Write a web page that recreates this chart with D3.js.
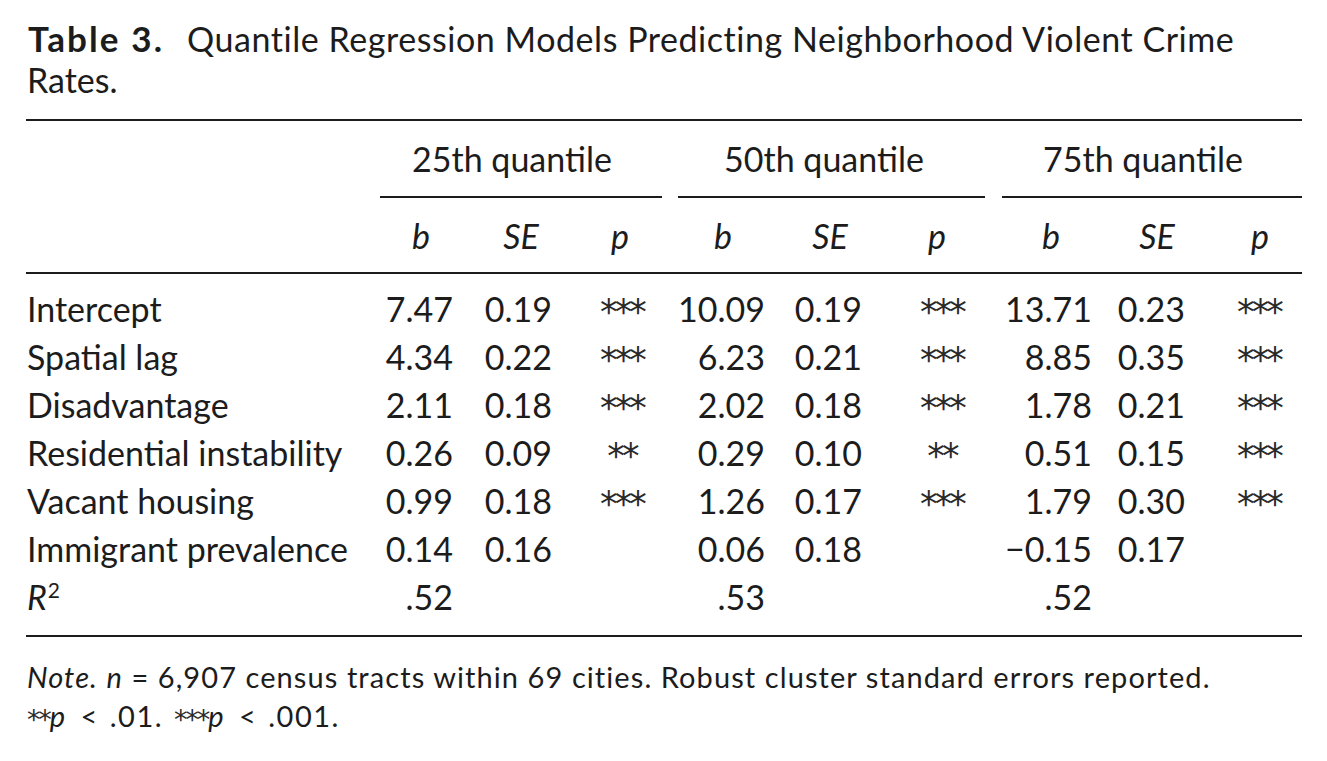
<!DOCTYPE html>
<html>
<head>
<meta charset="utf-8">
<script src="https://cdn.jsdelivr.net/npm/d3@7"></script>
<style>
  body { margin: 0; background: #fff; }
  text { font-family: Lato, "Noto Sans", sans-serif; fill: #1c1c1c; }
</style>
</head>
<body>
<svg id="table"></svg>
<script>
// table data
var rowLabels = ["Intercept", "Spatial lag", "Disadvantage", "Residential instability",
                 "Vacant housing", "Immigrant prevalence", "R2"];
var quantiles = ["25th quantile", "50th quantile", "75th quantile"];
var statLabels = ["b", "SE", "p"];

var b25 = [7.47, 4.34, 2.11, 0.26, 0.99, 0.14];
var se25 = [0.19, 0.22, 0.18, 0.09, 0.18, 0.16];
var p25 = ["***", "***", "***", "**", "***", ""];

var b50 = [10.09, 6.23, 2.02, 0.29, 1.26, 0.06];
var se50 = [0.19, 0.21, 0.18, 0.10, 0.17, 0.18];
var p50 = ["***", "***", "***", "**", "***", ""];

var b75 = [13.71, 8.85, 1.78, 0.51, 1.79, -0.15];
var se75 = [0.23, 0.35, 0.21, 0.15, 0.30, 0.17];
var p75 = ["***", "***", "***", "***", "***", ""];

var rSquared = [0.52, 0.53, 0.52];

var W = 1327, H = 761;
var left = 26, right = 1302;
var ink = "#1c1c1c";

var svg = d3.select("#table").attr("width", W).attr("height", H);
svg.append("rect").attr("width", W).attr("height", H).attr("fill", "#fff");

var fmt = d3.format(".2f");
var fmtR2 = v => fmt(v).replace(/^0/, "");

// rows: one band per row, text baseline at the middle of the band
var y = d3.scaleBand().domain(rowLabels).range([298, 634]).paddingInner(0);
var baseline = d => y(d) + y.bandwidth() / 2;

// column anchors per quantile group
var groupX = d3.scaleOrdinal().domain(quantiles).range([
  { title: 512, line: [380, 662], bHead: 421, seHead: 521, pHead: 620, b: 453, se: 552, p: 620 },
  { title: 824, line: [678, 985], bHead: 723, seHead: 830, pHead: 937, b: 765, se: 862, p: 940 },
  { title: 1143, line: [1002, 1302], bHead: 1051, seHead: 1157, pHead: 1260, b: 1092, se: 1185, p: 1257 }
]);

var groups = [
  { name: quantiles[0], b: b25, se: se25, p: p25, r2: rSquared[0] },
  { name: quantiles[1], b: b50, se: se50, p: p50, r2: rSquared[1] },
  { name: quantiles[2], b: b75, se: se75, p: p75, r2: rSquared[2] }
];

// spread a line to a target width with letter spacing (the reference face runs wider)
function fitWidth(sel, target) {
  var node = sel.node();
  var natural = node.getComputedTextLength();
  var n = node.textContent.length - 1;
  if (n > 0) sel.attr("letter-spacing", (target - natural) / n);
}

// significance stars, DejaVu's asterisk is big enough to read at cap height
function stars(sel, size) {
  sel.style("font-family", "'DejaVu Sans', sans-serif")
    .attr("font-size", size).attr("letter-spacing", -size * 0.08)
    .style("fill", "#2a2a2a");
}

// title
svg.append("text").attr("x", 28).attr("y", 52).attr("font-size", 35)
  .attr("font-weight", 700).text("Table 3.").call(fitWidth, 162 - 28);
svg.append("text").attr("x", 187).attr("y", 52).attr("font-size", 34)
  .text("Quantile Regression Models Predicting Neighborhood Violent Crime")
  .call(fitWidth, 1235 - 187);
svg.append("text").attr("x", 27).attr("y", 93).attr("font-size", 34).text("Rates.");

// rules
function rule(x1, x2, yy, w) {
  svg.append("line").attr("x1", x1).attr("x2", x2).attr("y1", yy).attr("y2", yy)
    .attr("stroke", ink).attr("stroke-width", w || 2);
}
rule(left, right, 120, 2.2);
rule(left, right, 273, 2.2);
rule(left, right, 636, 2.2);

// group headers
groups.forEach(g => {
  var c = groupX(g.name);
  svg.append("text").attr("x", c.title).attr("y", 172).attr("text-anchor", "middle")
    .attr("font-size", 34).text(g.name);
  rule(c.line[0], c.line[1], 197, 2);
  [[statLabels[0], c.bHead], [statLabels[1], c.seHead], [statLabels[2], c.pHead]].forEach(s => {
    svg.append("text").attr("x", s[1]).attr("y", 249).attr("text-anchor", "middle")
      .attr("font-size", 34).attr("font-style", "italic").text(s[0]);
  });
});

// row labels
svg.selectAll("text.label")
  .data(rowLabels.slice(0, 6))
  .join("text")
  .attr("class", "label")
  .attr("x", 27)
  .attr("y", d => baseline(d))
  .attr("font-size", 34)
  .text(d => d);

var r2Label = svg.append("text").attr("x", 27).attr("y", baseline("R2")).attr("font-size", 34);
r2Label.append("tspan").attr("font-style", "italic").text("R");
r2Label.append("tspan").attr("font-size", 21).attr("dx", 1).attr("dy", -12).text("2");

// cells
groups.forEach(g => {
  var c = groupX(g.name);
  var rows = rowLabels.slice(0, 6).map((r, i) => ({ row: r, b: g.b[i], se: g.se[i], p: g.p[i] }));

  svg.selectAll(null).data(rows).join("text")
    .attr("x", c.b).attr("y", d => baseline(d.row)).attr("text-anchor", "end")
    .attr("font-size", 34).text(d => fmt(d.b));

  svg.selectAll(null).data(rows).join("text")
    .attr("x", c.se).attr("y", d => baseline(d.row)).attr("text-anchor", "end")
    .attr("font-size", 34).text(d => fmt(d.se));

  svg.selectAll(null).data(rows.filter(d => d.p)).join("text")
    .attr("x", c.p + 2).attr("y", d => baseline(d.row) + 2).attr("text-anchor", "middle")
    .call(stars, 35)
    .text(d => d.p);

  svg.append("text").attr("x", c.b).attr("y", baseline("R2")).attr("text-anchor", "end")
    .attr("font-size", 34).text(fmtR2(g.r2));
});

// note
var note1 = svg.append("text").attr("x", 27).attr("y", 688).attr("font-size", 29);
note1.append("tspan").attr("font-style", "italic").text("Note.");
note1.append("tspan").text(" ");
note1.append("tspan").attr("font-style", "italic").text("n");
note1.append("tspan").text(" = 6,907 census tracts within 69 cities. Robust cluster standard errors reported.");
fitWidth(note1, 1210 - 27);

var note2 = svg.append("text").attr("x", 27).attr("y", 727).attr("font-size", 29)
  .attr("word-spacing", 2);
note2.append("tspan").call(stars, 27).attr("dy", 2).text("**");
note2.append("tspan").attr("font-style", "italic").attr("font-size", 29).attr("dy", -2).text("p");
note2.append("tspan").attr("font-size", 29).attr("dx", 3).text(" < .01. ");
note2.append("tspan").call(stars, 27).attr("dy", 2).text("***");
note2.append("tspan").attr("font-style", "italic").attr("font-size", 29).attr("dy", -2).text("p");
note2.append("tspan").attr("font-size", 29).attr("dx", 3).text(" < .001.");
fitWidth(note2, 340 - 27);
</script>
</body>
</html>
